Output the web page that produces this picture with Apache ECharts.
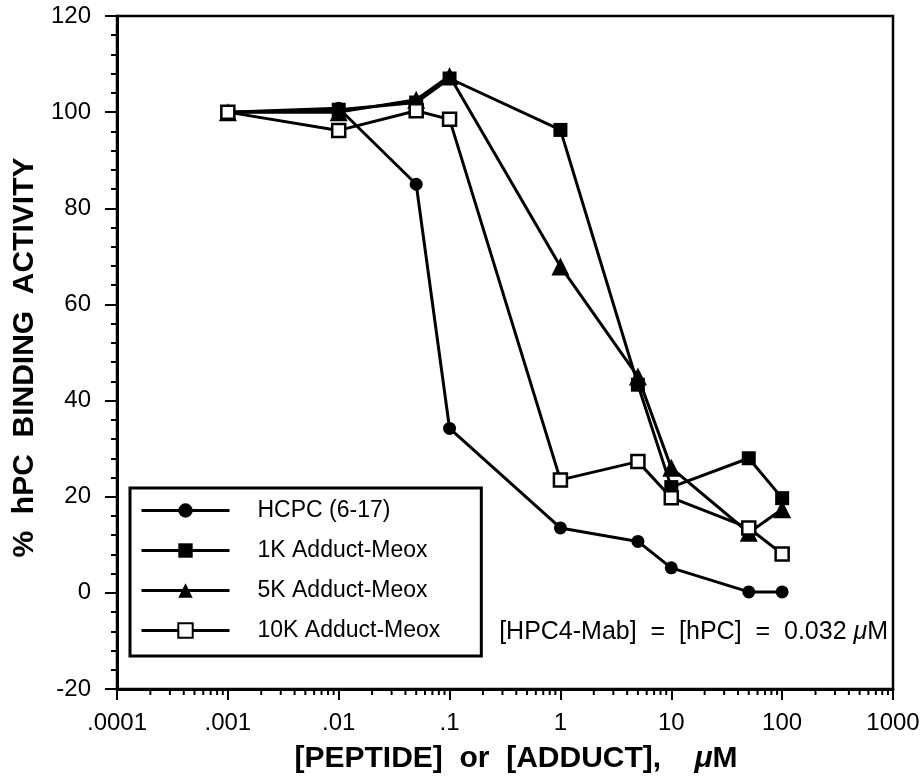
<!DOCTYPE html>
<html>
<head>
<meta charset="utf-8">
<script src="https://cdn.jsdelivr.net/npm/echarts@6/dist/echarts.min.js"></script>
<style>
html,body{margin:0;padding:0;background:#fff;}
#chart{width:924px;height:784px;}
</style>
</head>
<body>
<div id="chart"></div>
<script>
// ---- data ----
var concentrations = [0.001, 0.01, 0.05, 0.1, 1, 5, 10, 50, 100];
var hcpc      = [100, 100.8, 85, 34.2, 13.5, 10.7, 5.2, 0.2, 0.2];
var adduct1K  = [100, 100.5, 102, 107, 96.3, 43.3, 22, 28, 19.7];
var adduct5K  = [100, 100, 102.6, 107.5, 67.9, 45, 26, 12.5, 17.4];
var adduct10K = [100, 96.2, 100.3, 98.5, 23.5, 27.3, 19.8, 13.5, 8.1];
var seriesNames = ['HCPC (6-17)', '1K Adduct-Meox', '5K Adduct-Meox', '10K Adduct-Meox'];
var xTickLabels = ['.0001', '.001', '.01', '.1', '1', '10', '100', '1000'];
var yTicks = [-20, 0, 20, 40, 60, 80, 100, 120];

function pairs(vals) {
  return concentrations.map(function (c, i) { return [c, vals[i]]; });
}
// log minor tick positions (2..9 in each decade)
var minorX = [];
for (var e = -4; e < 3; e++) {
  for (var m = 2; m <= 9; m++) minorX.push([m * Math.pow(10, e)]);
}

var FONT = '"Liberation Sans", Arial, Helvetica, sans-serif';
var lineBase = { color: '#000', width: 3 };

function mkSeries(name, vals, symbol, size, filled) {
  return {
    name: name,
    type: 'line',
    data: pairs(vals),
    symbol: symbol,
    symbolSize: size,
    lineStyle: lineBase,
    itemStyle: filled ? { color: '#000', borderColor: '#000', borderWidth: 0 }
                      : { color: '#fff', borderColor: '#000', borderWidth: 2.5 },
    emphasis: { disabled: true },
    animation: false,
    z: 3
  };
}

var chart = echarts.init(document.getElementById('chart'), null, { renderer: 'canvas' });
chart.setOption({
  backgroundColor: '#fff',
  animation: false,
  grid: {
    left: 117, right: 31, top: 16, bottom: 95,
    show: true, borderColor: '#000', borderWidth: 2.5, backgroundColor: 'transparent'
  },
  legend: {
    data: seriesNames,
    orient: 'vertical',
    left: 130, top: 488,
    padding: [11, 41, 14, 10],
    itemWidth: 88, itemHeight: 18, itemGap: 17,
    backgroundColor: '#fff',
    borderColor: '#000', borderWidth: 3, borderRadius: 0,
    lineStyle: { width: 3, color: '#000' },
    textStyle: { color: '#000', fontSize: 23, fontFamily: FONT, padding: [0, 0, 0, 23] },
    selectedMode: false
  },
  xAxis: {
    type: 'log', logBase: 10, min: 0.0001, max: 1000, splitNumber: 7,
    name: '{a|[PEPTIDE]  or  [ADDUCT],    }{b|μ}{a|M}',
    nameLocation: 'middle', nameGap: 55,
    nameTextStyle: {
      padding: [0, 0, 0, 22],
      rich: {
        a: { fontSize: 30, fontWeight: 'bold', fontFamily: FONT, color: '#000' },
        b: { fontSize: 30, fontWeight: 'bold', fontStyle: 'italic', fontFamily: FONT, color: '#000' }
      }
    },
    axisLine: { onZero: false, lineStyle: { color: '#000', width: 3 } },
    axisTick: { show: true, length: 11, inside: false, lineStyle: { color: '#000', width: 2 } },
    axisLabel: {
      margin: 22, fontSize: 24, color: '#000', fontFamily: FONT,
      formatter: function (v) {
        var i = Math.round(Math.log10(v)) + 4;
        return xTickLabels[i] || '';
      }
    },
    splitLine: { show: false }
  },
  yAxis: {
    type: 'value', min: -20, max: 120, interval: 20,
    name: '%  hPC  BINDING  ACTIVITY',
    nameLocation: 'middle', nameGap: 70, nameRotate: 90,
    nameTextStyle: { fontSize: 30, fontWeight: 'bold', fontFamily: FONT, color: '#000', padding: [0, 10, 0, 0] },
    axisLine: { onZero: false, lineStyle: { color: '#000', width: 3 } },
    axisTick: { show: true, length: 12, lineStyle: { color: '#000', width: 2 } },
    minorTick: { show: true, splitNumber: 5, length: 6, lineStyle: { color: '#000', width: 2 } },
    axisLabel: {
      margin: 26, fontSize: 24, color: '#000', fontFamily: FONT,
      formatter: function (v) { return yTicks.indexOf(v) >= 0 ? String(v) : ''; }
    },
    splitLine: { show: false }
  },
  graphic: [{
    type: 'text',
    right: 36, top: 620,
    z: 10,
    style: {
      text: '{a|[HPC4-Mab]  =  [hPC]  =  0.032 }{b|μ}{a|M}',
      rich: {
        a: { fontSize: 25, fontFamily: FONT, fill: '#000', backgroundColor: '#fff' },
        b: { fontSize: 25, fontStyle: 'italic', fontFamily: FONT, fill: '#000', backgroundColor: '#fff' }
      }
    }
  }],
  series: [
    mkSeries(seriesNames[0], hcpc, 'circle', 13, true),
    mkSeries(seriesNames[1], adduct1K, 'rect', 14, true),
    mkSeries(seriesNames[2], adduct5K, 'triangle', 18, true),
    mkSeries(seriesNames[3], adduct10K, 'rect', 13, false),
    {
      name: 'minorTicksX',
      type: 'custom',
      data: minorX,
      clip: false,
      silent: true,
      animation: false,
      encode: { x: 0 },
      renderItem: function (params, api) {
        var p = api.coord([api.value(0), -20]);
        return {
          type: 'line',
          shape: { x1: p[0], y1: p[1], x2: p[0], y2: p[1] + 6 },
          style: { stroke: '#000', lineWidth: 2 }
        };
      },
      z: 2
    }
  ]
});
</script>
</body>
</html>
